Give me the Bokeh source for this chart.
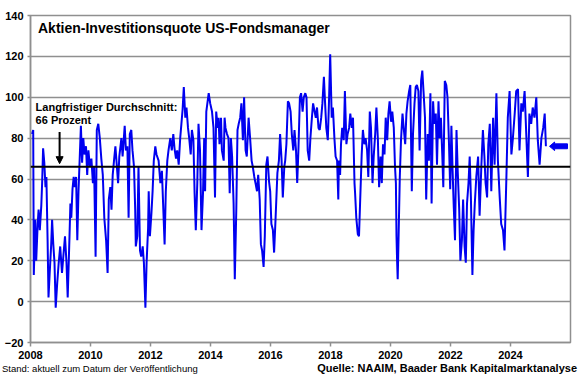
from bokeh.plotting import figure
from bokeh.layouts import column
from bokeh.models import Range1d, Label, Arrow, NormalHead, Span, FixedTicker, Div
from bokeh.embed import file_html
from bokeh.resources import INLINE

# ---- data (weekly NAAIM exposure index) ----
dates = [
    2008.05, 2008.09, 2008.11, 2008.16, 2008.19, 2008.24, 2008.27, 2008.31, 2008.36, 2008.39,
    2008.42, 2008.46, 2008.50, 2008.53, 2008.57, 2008.60, 2008.64, 2008.69, 2008.72, 2008.76,
    2008.80, 2008.84, 2008.89, 2008.94, 2008.99, 2009.05, 2009.11, 2009.15, 2009.20, 2009.24,
    2009.30, 2009.33, 2009.36, 2009.40, 2009.44, 2009.48, 2009.52, 2009.56, 2009.60, 2009.64,
    2009.68, 2009.72, 2009.76, 2009.80, 2009.85, 2009.89, 2009.93, 2009.98, 2010.03, 2010.08,
    2010.12, 2010.17, 2010.21, 2010.26, 2010.31, 2010.36, 2010.41, 2010.46, 2010.52, 2010.57,
    2010.61, 2010.66, 2010.70, 2010.74, 2010.79, 2010.83, 2010.88, 2010.92, 2010.96, 2011.03,
    2011.07, 2011.14, 2011.18, 2011.23, 2011.27, 2011.31, 2011.36, 2011.40, 2011.45, 2011.49,
    2011.51, 2011.56, 2011.60, 2011.65, 2011.69, 2011.74, 2011.78, 2011.83, 2011.87, 2011.92,
    2011.94, 2011.98, 2012.03, 2012.07, 2012.11, 2012.16, 2012.20, 2012.27, 2012.33, 2012.38,
    2012.42, 2012.47, 2012.51, 2012.56, 2012.60, 2012.66, 2012.71, 2012.76, 2012.80, 2012.85,
    2012.89, 2012.94, 2012.99, 2013.03, 2013.07, 2013.11, 2013.16, 2013.20, 2013.25, 2013.29,
    2013.34, 2013.38, 2013.43, 2013.47, 2013.51, 2013.56, 2013.60, 2013.65, 2013.70, 2013.75,
    2013.79, 2013.82, 2013.86, 2013.94, 2013.99, 2014.05, 2014.10, 2014.15, 2014.19, 2014.24,
    2014.27, 2014.30, 2014.35, 2014.38, 2014.44, 2014.47, 2014.50, 2014.55, 2014.60, 2014.64,
    2014.68, 2014.72, 2014.77, 2014.81, 2014.86, 2014.90, 2014.94, 2014.99, 2015.03, 2015.08,
    2015.12, 2015.17, 2015.21, 2015.27, 2015.32, 2015.37, 2015.41, 2015.46, 2015.50, 2015.55,
    2015.59, 2015.64, 2015.68, 2015.72, 2015.77, 2015.81, 2015.86, 2015.90, 2015.95, 2015.99,
    2016.03, 2016.08, 2016.12, 2016.17, 2016.23, 2016.28, 2016.32, 2016.37, 2016.41, 2016.46,
    2016.49, 2016.53, 2016.58, 2016.62, 2016.67, 2016.71, 2016.76, 2016.80, 2016.85, 2016.89,
    2016.93, 2016.98, 2017.02, 2017.07, 2017.11, 2017.16, 2017.20, 2017.24, 2017.29, 2017.33,
    2017.38, 2017.42, 2017.47, 2017.51, 2017.55, 2017.60, 2017.64, 2017.69, 2017.73, 2017.78,
    2017.82, 2017.86, 2017.91, 2017.95, 2017.99, 2018.04, 2018.08, 2018.13, 2018.17, 2018.22,
    2018.26, 2018.28, 2018.32, 2018.35, 2018.39, 2018.44, 2018.48, 2018.53, 2018.57, 2018.62,
    2018.66, 2018.71, 2018.75, 2018.80, 2018.82, 2018.86, 2018.91, 2018.95, 2018.99, 2019.04,
    2019.08, 2019.13, 2019.17, 2019.22, 2019.26, 2019.31, 2019.35, 2019.40, 2019.44, 2019.49,
    2019.53, 2019.58, 2019.62, 2019.67, 2019.71, 2019.75, 2019.80, 2019.84, 2019.89, 2019.93,
    2019.97, 2020.02, 2020.06, 2020.11, 2020.15, 2020.18, 2020.20, 2020.22, 2020.24, 2020.26,
    2020.31, 2020.35, 2020.40, 2020.44, 2020.49, 2020.53, 2020.57, 2020.62, 2020.66, 2020.71,
    2020.75, 2020.80, 2020.84, 2020.88, 2020.93, 2020.97, 2021.02, 2021.06, 2021.10, 2021.15,
    2021.19, 2021.24, 2021.28, 2021.33, 2021.37, 2021.42, 2021.46, 2021.51, 2021.55, 2021.60,
    2021.64, 2021.68, 2021.73, 2021.76, 2021.81, 2021.86, 2021.90, 2021.95, 2021.99, 2022.03,
    2022.07, 2022.11, 2022.15, 2022.20, 2022.24, 2022.29, 2022.33, 2022.38, 2022.42, 2022.47,
    2022.51, 2022.55, 2022.60, 2022.64, 2022.68, 2022.73, 2022.77, 2022.81, 2022.86, 2022.92,
    2022.97, 2023.03, 2023.08, 2023.13, 2023.17, 2023.22, 2023.26, 2023.31, 2023.36, 2023.42,
    2023.47, 2023.53, 2023.58, 2023.64, 2023.69, 2023.75, 2023.80, 2023.86, 2023.91, 2023.97,
    2024.03, 2024.08, 2024.14, 2024.19, 2024.25, 2024.30, 2024.36, 2024.41, 2024.47, 2024.52,
    2024.58, 2024.63, 2024.69, 2024.74, 2024.80, 2024.86, 2024.91, 2024.97, 2025.03, 2025.09,
    2025.14, 2025.18,
]
exposure = [
    82, 84, 13, 40, 20, 38, 45, 35, 47, 59,
    75, 68, 56, 61, 30, 2, 14, 28, 40, 28,
    19, -3, 9, 19, 27, 14, 25, 32, 19, 2,
    32, 48, 41, 55, 61, 56, 61, 30, 54, 70,
    86, 68, 80, 72, 76, 62, 74, 66, 70, 58,
    66, 22, 84, 87, 80, 70, 62, 41, 30, 14,
    50, 56, 45, 62, 70, 76, 66, 58, 71, 80,
    71, 86, 74, 76, 41, 82, 84, 74, 66, 45,
    27, 32, 66, 25, 22, 27, 19, -3, 19, 36,
    54, 32, 43, 54, 69, 76, 72, 69, 58, 64,
    48, 28, 54, 69, 74, 80, 74, 82, 75, 70,
    74, 67, 80, 87, 94, 105, 90, 95, 85, 80,
    72, 84, 79, 53, 35, 58, 87, 74, 35, 53,
    80, 54, 93, 102, 97, 93, 85, 51, 93, 85,
    90, 77, 90, 74, 69, 90, 85, 82, 80, 53,
    80, 71, 48, 11, 45, 84, 87, 90, 97, 79,
    100, 74, 71, 90, 80, 69, 66, 61, 58, 54,
    62, 50, 28, 25, 17, 32, 67, 71, 59, 54,
    38, 35, 24, 41, 63, 69, 82, 69, 51, 66,
    69, 77, 98, 97, 93, 82, 74, 84, 74, 58,
    74, 100, 102, 93, 100, 102, 100, 74, 69, 80,
    90, 97, 93, 90, 95, 85, 84, 90, 97, 110,
    97, 85, 79, 98, 121, 90, 95, 80, 71, 69,
    50, 69, 62, 77, 85, 79, 103, 77, 82, 85,
    92, 85, 90, 58, 53, 41, 33, 32, 50, 72,
    84, 77, 80, 74, 61, 93, 85, 58, 71, 82,
    95, 79, 56, 71, 58, 77, 72, 90, 79, 92,
    98, 88, 93, 85, 66, 58, 32, 20, 11, 25,
    61, 79, 92, 85, 77, 92, 98, 103, 106, 54,
    82, 97, 105, 106, 103, 74, 108, 113, 103, 90,
    50, 82, 69, 102, 48, 98, 87, 92, 67, 98,
    80, 90, 70, 56, 108, 106, 100, 77, 55, 86,
    64, 46, 30, 84, 64, 45, 20, 30, 50, 27,
    19, 48, 58, 71, 51, 13, 35, 48, 61, 71,
    42, 67, 84, 71, 58, 51, 77, 87, 54, 90,
    67, 102, 69, 51, 38, 35, 25, 59, 90, 103,
    72, 80, 92, 103, 104, 74, 97, 93, 103, 84,
    61, 92, 87, 95, 90, 100, 79, 67, 80, 85,
    92, 76,
]
long_term_average = 66
year_ticks = [2008, 2010, 2012, 2014, 2016, 2018, 2020, 2022, 2024]
value_ticks = [-20, 0, 20, 40, 60, 80, 100, 120, 140]

title_text = "Aktien-Investitionsquote US-Fondsmanager"
avg_text_1 = "Langfristiger Durchschnitt:"
avg_text_2 = "66 Prozent"
stand_text = "Stand: aktuell zum Datum der Veröffentlichung"
source_text = "Quelle: NAAIM, Baader Bank Kapitalmarktanalyse"

FONT = "Liberation Sans"
GRID = "#8f8f8f"
BLUE = "#0000f0"

p = figure(frame_width=540, frame_height=327,
           x_range=Range1d(2008, 2026), y_range=Range1d(-20, 140),
           output_backend="svg", toolbar_location=None,
           min_border_left=30, min_border_right=10,
           min_border_top=15, min_border_bottom=22)
p.background_fill_color = "white"
p.border_fill_color = "white"
p.outline_line_color = GRID
p.outline_line_width = 1.5

p.xgrid.grid_line_color = None
p.ygrid.ticker = FixedTicker(ticks=value_ticks)
p.ygrid.grid_line_color = GRID
p.ygrid.grid_line_width = 1.5

p.xaxis.ticker = FixedTicker(ticks=year_ticks)
p.yaxis.ticker = FixedTicker(ticks=value_ticks)
for ax in (p.xaxis[0], p.yaxis[0]):
    ax.axis_line_color = GRID
    ax.axis_line_width = 1.5
    ax.major_tick_line_color = GRID
    ax.major_tick_line_width = 1.5
    ax.major_tick_in = 0
    ax.minor_tick_line_color = None
    ax.major_label_text_font = FONT
    ax.major_label_text_font_style = "bold"
    ax.major_label_text_font_size = "11px"
    ax.major_label_text_color = "black"
p.xaxis.major_tick_out = 4
p.xaxis.major_label_standoff = 4
p.yaxis.major_tick_out = 3
p.yaxis.major_label_standoff = 4

# long-term average line
p.add_layout(Span(location=long_term_average, dimension="width",
                  line_color="black", line_width=2))

# data line
p.line(dates, exposure, line_color=BLUE, line_width=2)

# arrow marking the latest value
x_last = dates[-1]
y_last = exposure[-1]
tip, base, end = x_last + 0.12, x_last + 0.29, x_last + 0.72
hh, bh = 2.1, 1.2
p.patch([tip, base, base, end, end, base, base],
        [y_last, y_last + hh, y_last + bh, y_last + bh, y_last - bh, y_last - bh, y_last - hh],
        fill_color=BLUE, line_color=BLUE, line_width=1)

# annotation arrow for the long-term average
p.add_layout(Arrow(end=NormalHead(size=7, fill_color="black", line_color="black", line_width=1),
                   x_start=2008.97, y_start=83, x_end=2008.97, y_end=long_term_average + 1.5,
                   line_color="black", line_width=2))

def lab(fig, text, x, y, size, bold=True, align="left", baseline="top"):
    fig.add_layout(Label(x=x, y=y, text=text, text_font=FONT,
                         text_font_style="bold" if bold else "normal",
                         text_font_size=size, text_color="black",
                         text_align=align, text_baseline=baseline))

lab(p, title_text, 2008.25, 137.6, "14px")
lab(p, avg_text_1, 2008.17, 98.2, "11px")
lab(p, avg_text_2, 2008.17, 91.6, "11px")

# footer line with the notes (HTML strip below the chart)
footer_html = (
    '<div style="position:relative;width:580px;height:11px;'
    'font-family:\'Liberation Sans\';color:black;white-space:nowrap;">'
    '<span style="position:absolute;left:2px;top:-2px;font-size:9.5px;line-height:12px;">'
    + stand_text +
    '</span>'
    '<span style="position:absolute;right:3px;top:-3px;font-size:11px;font-weight:bold;line-height:13px;">'
    + source_text +
    '</span></div>'
)
foot = Div(text=footer_html, width=580, height=11, margin=0,
           styles={"overflow": "visible"})

layout = column(p, foot, spacing=0)
open("out.html", "w").write(file_html(layout, INLINE))
